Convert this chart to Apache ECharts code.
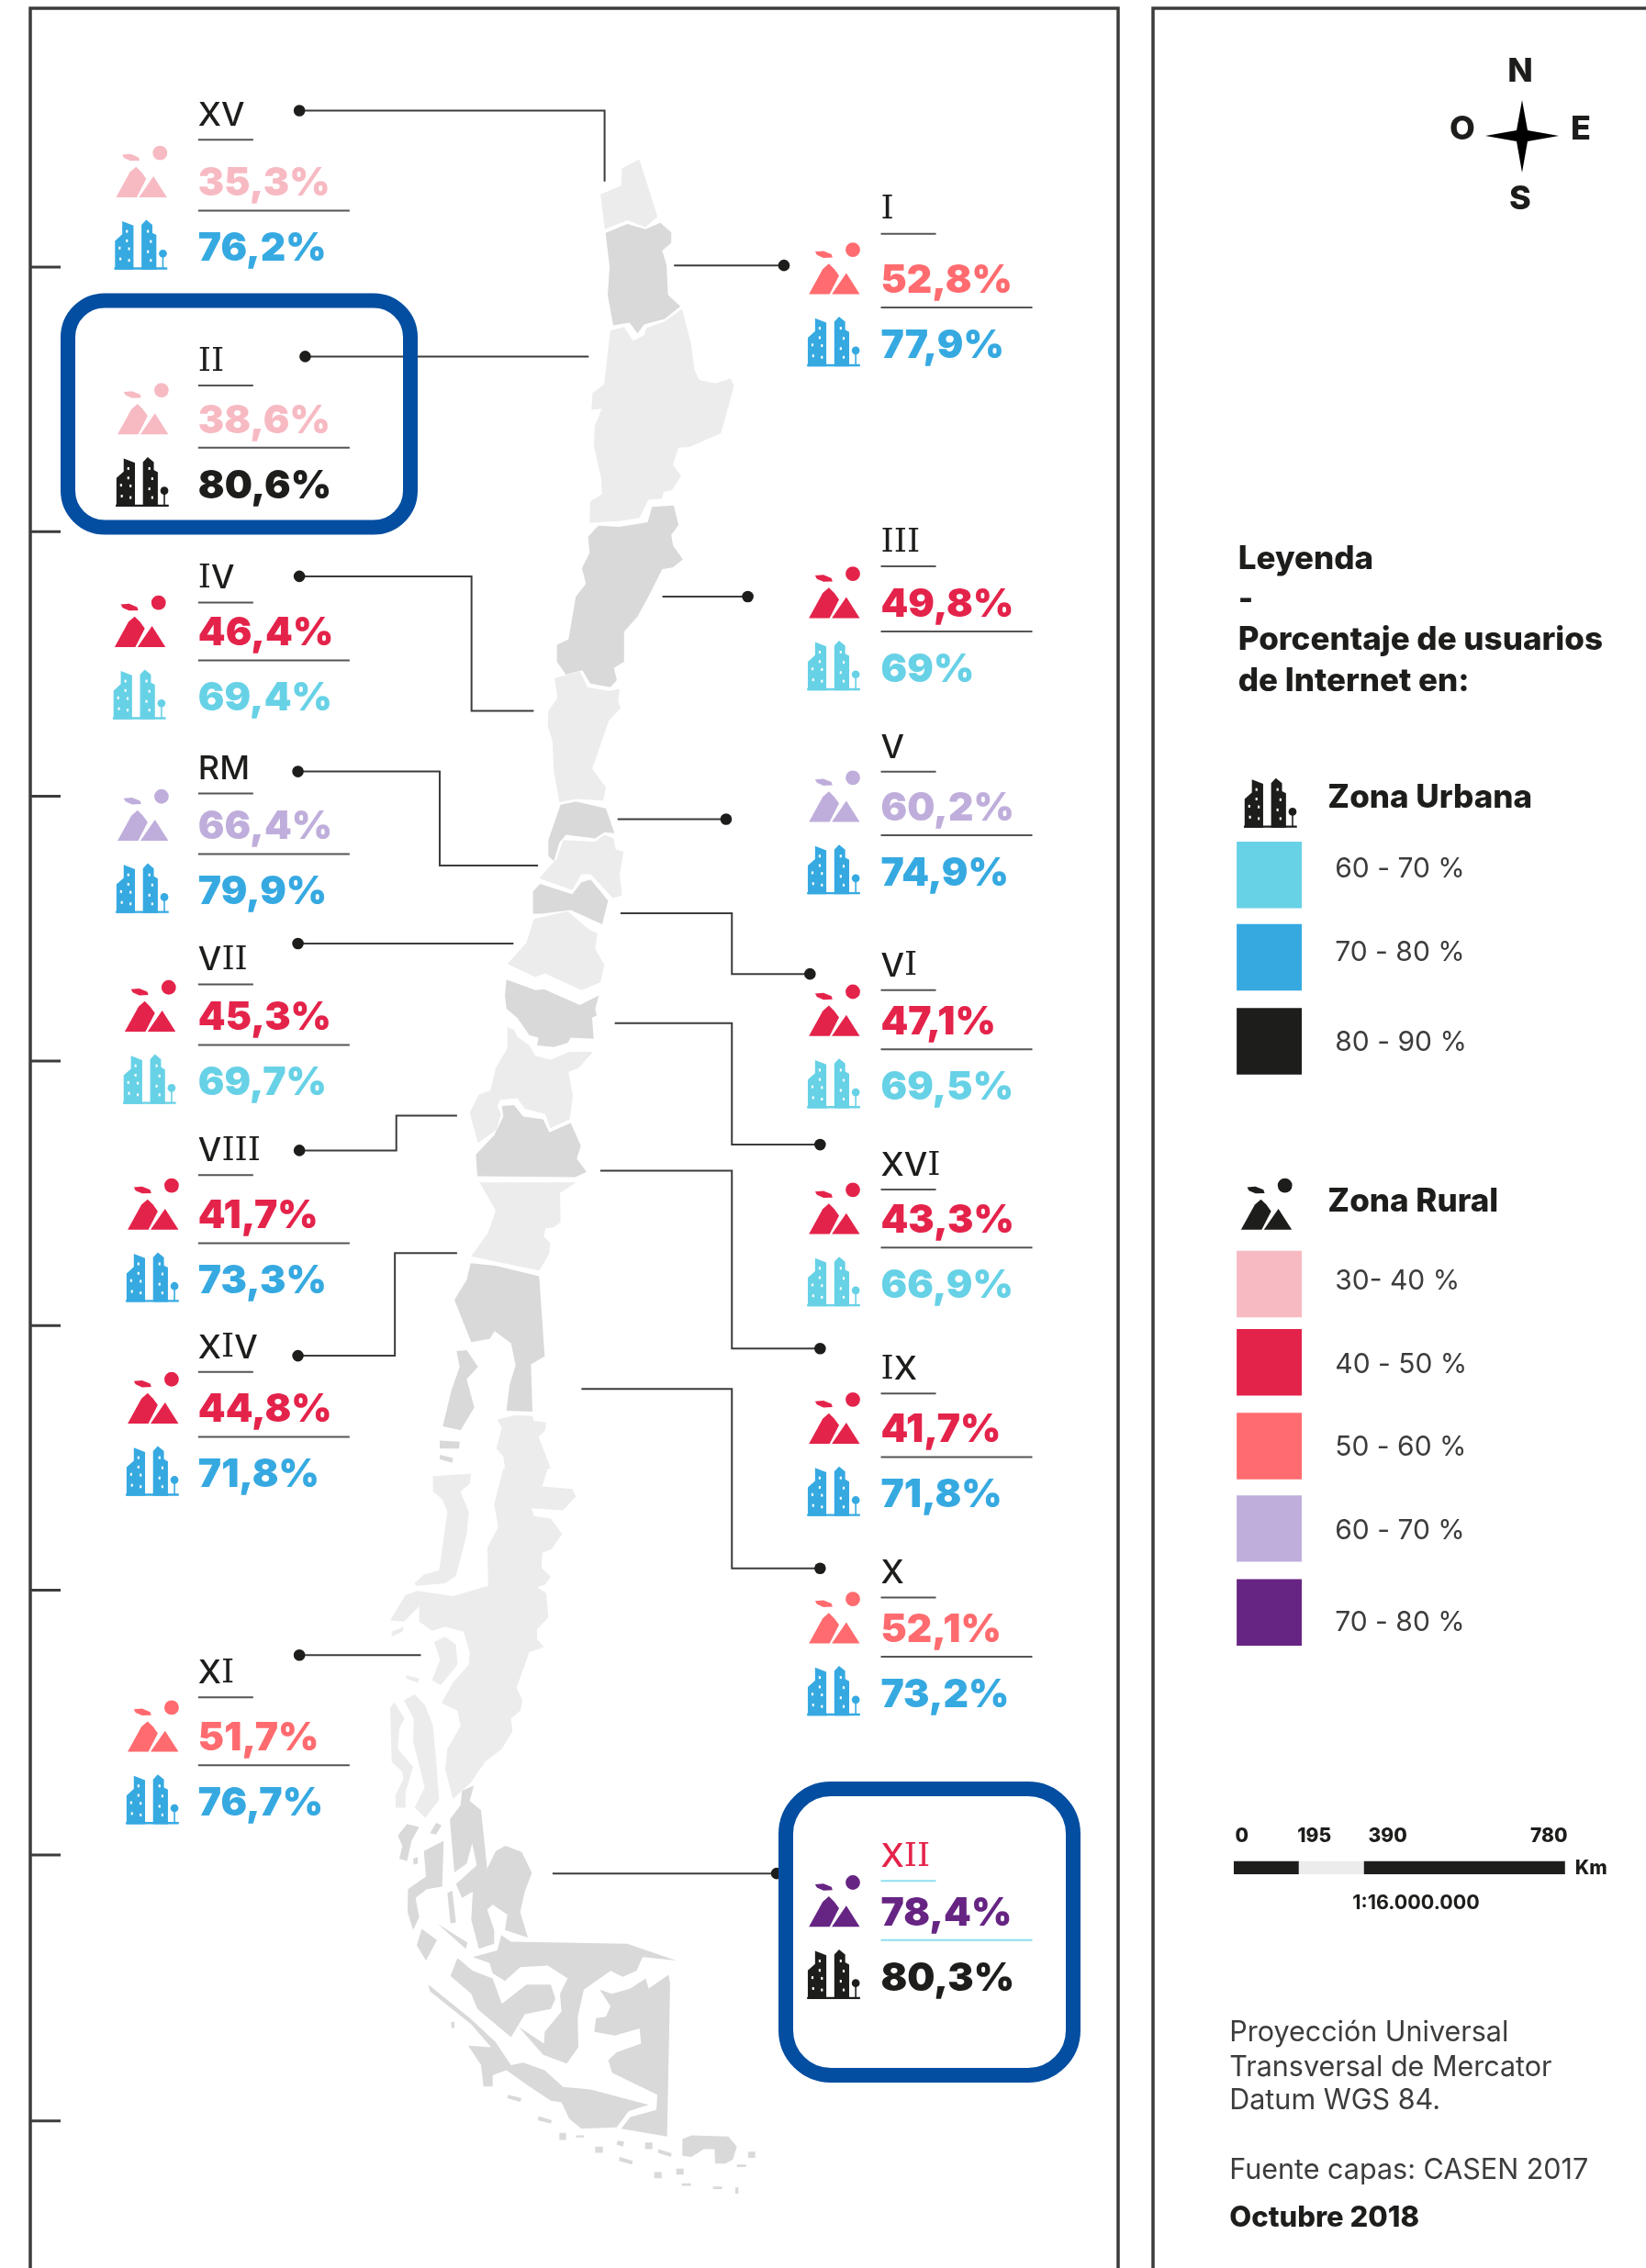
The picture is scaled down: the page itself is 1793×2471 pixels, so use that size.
<!DOCTYPE html>
<html>
<head>
<meta charset="utf-8">
<title>Usuarios de Internet</title>
<style>
  html, body { margin: 0; padding: 0; background: #fff; }
  #chart { width: 1793px; height: 2471px; }
</style>
<script src="https://cdn.jsdelivr.net/npm/echarts@6/dist/echarts.min.js"></script>
</head>
<body>
<div id="chart"></div>
<script>
// values
const regions = ['XV', 'II', 'IV', 'RM', 'VII', 'VIII', 'XIV', 'XI', 'I', 'III', 'V', 'VI', 'XVI', 'IX', 'X', 'XII'];
const ruralValues = [35.3, 38.6, 46.4, 66.4, 45.3, 41.7, 44.8, 51.7, 52.8, 49.8, 60.2, 47.1, 43.3, 41.7, 52.1, 78.4];
const urbanValues = [76.2, 80.6, 69.4, 79.9, 69.7, 73.3, 71.8, 76.7, 77.9, 69, 74.9, 69.5, 66.9, 71.8, 73.2, 80.3];

const urbanLegendLabels = ['60 - 70 %', '70 - 80 %', '80 - 90 %'];
const urbanLegendLimits = [60, 70, 80];
const ruralLegendLabels = ['30- 40 %', '40 - 50 %', '50 - 60 %', '60 - 70 %', '70 - 80 %'];
const ruralLegendLimits = [30, 40, 50, 60, 70];
const scaleTicks = ['0', '195', '390', '780'];

const urbanColors = ['#67d1e6', '#36a9e1', '#1d1d1b'];
const ruralColors = ['#f7bac3', '#e4234a', '#ff6b6f', '#bfaedb', '#662483'];
const INK = '#1d1d1b';
const LINE = '#3c3c3b';
const BOX = '#044ea1';
const FONT = 'Inter';

// layout below is in the 1138 wide preview, S brings it to page pixels
const S = 1793 / 1138;
// per card: text x, title y, rural row y, icon x
const cardLayout = [
  [137, 79, 126, 79], [137, 249, 290, 80], [137, 399, 437, 78], [137, 531, 571, 80],
  [137, 663, 703, 85], [137, 795, 840, 87], [137, 931, 974, 87], [137, 1156, 1201, 87],
  [609, 144, 193, 558], [609, 374, 417, 558], [609, 516, 558, 558], [609, 667, 706, 558],
  [609, 805, 843, 558], [609, 946, 988, 558], [609, 1087, 1126, 558], [609, 1283, 1322, 558]
];
// leader lines, first point carries the dot
const leaders = [
  [207, 76, 418, 76, 418, 125], [211, 246, 407, 246], [207, 398, 326, 398, 326, 491, 369, 491],
  [206, 533, 304, 533, 304, 598, 372, 598], [206, 652, 355, 652],
  [207, 795, 274, 795, 274, 771, 316, 771], [206, 937, 273, 937, 273, 866, 316, 866], [207, 1144, 291, 1144],
  [542, 183, 466, 183], [517, 412, 458, 412], [502, 566, 427, 566], [560, 673, 506, 673, 506, 631, 429, 631],
  [567, 791, 506, 791, 506, 707, 425, 707], [567, 932, 506, 932, 506, 809, 415, 809],
  [567, 1084, 506, 1084, 506, 960, 402, 960], [537, 1295, 382, 1295]
];

// map outlines, traced per crop: [x0, y0, kx, ky, rings]
const cropA = [560, 130, 0.3954, 0.3954];
const cropB = [400, 700, 1 / 3, 0.574];
const cropC = [400, 1600, 1 / 3, 0.5555];
const lightShapes = [
  [cropA, [345,110,395,268,362,297,312,278,250,303,238,207,295,183,297,135]],
  [cropA, [265,582,303,573,328,610,358,595,365,575,415,557,463,522,488,620,497,690,510,718,555,728,596,714,606,735,570,865,483,903,453,905,437,952,460,982,435,1022,412,1027,408,1045,370,1048,345,1098,290,1107,265,1108,208,1112,210,1053,242,1033,240,990,220,900,222,845,242,798,213,800,216,755,248,730]],
  [cropB, [612,68,695,55,720,85,790,92,825,88,820,112,828,125,790,148,735,240,780,275,772,300,685,297,628,303,610,245,605,185,590,160,592,130,622,105]],
  [cropB, [640,375,745,378,775,365,805,372,812,393,838,397,825,440,833,480,803,485,730,440,700,440,670,470,565,448,565,445,620,410]],
  [cropB, [545,525,655,510,725,545,752,552,745,582,775,612,762,645,700,660,580,628,550,635,458,610,520,570]],
  [cropB, [458,730,480,735,490,748,530,765,550,785,600,792,660,777,738,777,690,808,658,815,672,860,662,905,598,922,582,895,515,885,490,865,435,868,425,880,437,895,423,925,362,950,335,893,365,858,403,850,420,808,458,770]],
  [cropB, [367,1025,682,1025,630,1045,632,1100,610,1110,582,1112,578,1128,598,1140,595,1160,570,1185,562,1192,420,1175,340,1165,395,1120,420,1078]],
  [cropB, [425,1475,480,1467,540,1468,545,1478,585,1480,582,1495,560,1508,600,1568,450,1568,445,1545,422,1530,440,1490]],
  [cropC, [445,0,590,0,572,35,670,40,682,55,640,82,537,78,545,93,600,98,637,128,603,158,572,165,570,195,600,212,580,228,555,232,585,245,592,292,555,315,555,335,578,350,530,360,488,430,508,455,500,475,470,490,475,515,440,550,385,575,340,615,280,648,255,590,262,550,305,505,295,475,243,460,280,420,332,385,335,360,315,320,255,310,212,318,170,300,170,270,120,300,75,298,125,248,165,240,280,250,395,230,393,155,428,115,415,70]],
  [cropC, [215,15,340,10,335,30,305,45,332,85,325,130,290,210,255,225,160,230,155,225,185,208,235,200,262,85,245,60,215,45]],
  [cropC, [80,320,120,310,115,320,80,330]],
  [cropC, [218,340,255,330,290,345,295,385,240,425,212,415,238,375]],
  [cropC, [127,405,170,412,165,420,127,412]],
  [cropC, [75,470,88,458,122,490,105,510,100,550,150,585,125,635,125,665,93,665,93,640,118,610,115,595,80,575]],
  [cropC, [120,455,155,443,190,465,215,505,225,570,235,650,190,685,155,665,188,625,150,535,152,490]]
];
const darkShapes = [
  [cropA, [252,313,312,288,362,303,403,285,433,312,433,340,408,362,420,400,424,484,458,515,415,550,358,565,340,590,318,560,273,568,258,485,263,405]],
  [cropA, [380,1068,440,1064,453,1118,433,1145,438,1175,465,1213,437,1235,408,1240,370,1315,340,1370,303,1412,303,1495,275,1512,283,1545,265,1565,210,1555,188,1518,143,1530,118,1495,118,1448,150,1433,170,1315,198,1280,187,1237,208,1195,204,1150,232,1120,290,1123,368,1110]],
  [cropB, [632,308,682,302,780,315,808,362,775,360,745,372,650,365,628,380,610,415,592,405,592,375,610,345]],
  [cropB, [565,458,670,478,700,455,730,450,787,490,768,535,665,508,570,515,542,515,542,472]],
  [cropB, [455,640,550,660,578,658,695,688,757,670,745,695,750,708,735,712,740,752,665,750,655,760,610,768,555,765,560,750,530,745,490,712,455,695,450,670]],
  [cropB, [440,880,480,878,510,900,575,905,595,930,665,912,698,955,685,980,717,1005,680,1015,360,1013,355,972,415,935,445,900]],
  [cropB, [338,1178,420,1183,562,1203,580,1355,535,1370,540,1460,455,1458,465,1410,485,1372,470,1330,417,1307,400,1322,340,1328,285,1248,325,1210]],
  [cropB, [292,1345,325,1343,362,1375,325,1398,350,1452,305,1495,247,1488,275,1420,302,1375]],
  [cropB, [237,1515,302,1517,300,1530,237,1530]],
  [cropB, [237,1542,280,1548,278,1557,237,1550]],
  [cropC, [310,632,348,622,335,652,372,670,392,785,420,750,452,740,505,752,538,793,515,830,500,870,525,920,450,905,458,875,410,855,392,865,415,905,415,932,365,942,340,885,345,830,310,842,290,815,358,778,343,735,325,775,285,792,270,688,305,660]],
  [cropC, [100,720,130,697,170,703,145,730,130,770,105,765,115,740]],
  [cropC, [205,715,225,695,243,700,225,718]],
  [cropC, [150,765,165,762,165,775,152,777]],
  [cropC, [185,750,250,730,245,820,195,825,158,842,170,880,150,905,132,870,133,825,192,800]],
  [cropC, [262,832,278,828,290,890,272,892]],
  [cropC, [230,893,328,930,322,942]],
  [cropC, [178,903,228,925,192,965,162,935]],
  [cropC, [295,960,345,985,410,1000,440,1050,520,1012,600,1012,615,1040,600,1060,515,1070,470,1115,360,1060,340,1030,272,995]],
  [cropC, [345,958,425,945,438,915,470,928,850,932,1010,965,900,958,880,985,835,997,795,985,708,1022,688,1075,690,1135,652,1167,575,1150,495,1095,578,1128,580,1105,635,1065,630,1030,655,1000,590,975,500,978,450,1005,410,990,400,970]],
  [cropC, [760,1022,800,1030,860,1020,910,1000,920,1020,985,993,990,1010,980,1310,830,1295,860,1272,945,1258,948,1228,800,1185,788,1160,815,1145,895,1128,890,1098,810,1112,742,1105,748,1078,780,1075,795,1055]],
  [cropC, [200,1012,340,1080,420,1125,470,1170,510,1165,580,1180,640,1213,730,1218,920,1248,855,1260,815,1292,700,1295,660,1275,635,1243,600,1240,520,1208,455,1180,410,1190,410,1212,380,1212,372,1170,330,1132,405,1135,340,1090,205,1025]],
  [cropC, [275,1085,285,1085,285,1097,275,1097]],
  [cropC, [460,1228,505,1235,500,1242,458,1235]],
  [cropC, [560,1270,603,1278,600,1285,558,1278]],
  [cropC, [628,1303,650,1303,650,1317,628,1317]],
  [cropC, [682,1308,708,1308,708,1312,682,1312]],
  [cropC, [745,1330,770,1330,770,1342,745,1342]],
  [cropC, [818,1318,840,1320,836,1330,815,1326]],
  [cropC, [908,1322,932,1322,932,1335,908,1335]],
  [cropC, [952,1335,995,1343,992,1350,950,1342]],
  [cropC, [825,1350,868,1358,865,1365,823,1358]],
  [cropC, [938,1380,962,1380,962,1392,938,1392]],
  [cropC, [1010,1373,1034,1373,1034,1385,1010,1385]],
  [cropC, [1028,1402,1058,1402,1058,1407,1028,1407]],
  [cropC, [1130,1408,1160,1408,1160,1413,1130,1413]],
  [cropC, [1203,1410,1213,1410,1213,1422,1203,1422]],
  [cropC, [1208,1365,1238,1365,1238,1370,1208,1370]],
  [cropC, [1245,1340,1268,1340,1268,1352,1245,1352]],
  [cropC, [1030,1315,1060,1308,1180,1310,1208,1330,1195,1355,1170,1363,1137,1363,1135,1335,1100,1335,1060,1350,1030,1348]]
];

function toRings(shapes) {
  return shapes.map(([c, flat]) => {
    const ring = [];
    for (let i = 0; i < flat.length; i += 2) ring.push([c[0] + flat[i] * c[2], c[1] + flat[i + 1] * c[3]]);
    ring.push(ring[0]);
    return [ring];
  });
}
const feature = (name, shapes) => ({
  type: 'Feature', properties: { name }, geometry: { type: 'MultiPolygon', coordinates: toRings(shapes) }
});
echarts.registerMap('chile', { type: 'FeatureCollection', features: [feature('claro', lightShapes), feature('oscuro', darkShapes)] });

function pickColor(value, limits, colors) {
  let idx = 0;
  limits.forEach((l, i) => { if (value >= l) idx = i; });
  return colors[idx];
}
const pts = (flat, x, y, k) => {
  const out = [];
  for (let i = 0; i < flat.length; i += 2) out.push([x + flat[i] * k, y + flat[i + 1] * k]);
  return out;
};
// icons, drawn in a box about 145 wide, k scales them
function ruralIcon(x, y, fill, k) {
  return [
    { type: 'circle', shape: { cx: x + 121 * k, cy: y + 19 * k, r: 20 * k }, style: { fill } },
    { type: 'polygon', shape: { points: pts([17,24,40,22,62,31,65,40,40,41,22,33], x, y, k) }, style: { fill } },
    { type: 'polygon', shape: { points: pts([0,141,38,72,55,57,70,72,83,90,57,141], x, y, k) }, style: { fill } },
    { type: 'polygon', shape: { points: pts([63,141,103,83,140,141], x, y, k) }, style: { fill } }
  ];
}
function urbanIcon(x, y, fill, k) {
  const windows = [32,32,32,58,12,78,38,80,14,108,38,112,90,32,98,60,90,88,98,112];
  const kids = [
    { type: 'polygon', shape: { points: pts([2,141,2,62,22,44,22,8,53,20,53,141], x, y, k) }, style: { fill } },
    { type: 'polygon', shape: { points: pts([75,141,75,18,88,4,105,18,105,40,116,46,116,141], x, y, k) }, style: { fill } },
    { type: 'circle', shape: { cx: x + 134 * k, cy: y + 97 * k, r: 11 * k }, style: { fill } },
    { type: 'rect', shape: { x: x + 132 * k, y: y + 100 * k, width: 4 * k, height: 38 * k }, style: { fill } },
    { type: 'rect', shape: { x, y: y + 135 * k, width: 146 * k, height: 6 * k }, style: { fill } }
  ];
  for (let i = 0; i < windows.length; i += 2) {
    kids.push({ type: 'rect', shape: { x: x + windows[i] * k, y: y + windows[i + 1] * k, width: 5.5 * k, height: 7.5 * k }, style: { fill: '#fff' } });
  }
  return kids;
}

const fmt = v => String(v).replace('.', ',') + '%';
// the roman I has slabs in the original, X V R M do not
const titleRich = code => code.replace(/I+|[^I]+/g, run => (run[0] === 'I' ? '{m|' : '{s|') + run + '}');

function renderCard(params, api) {
  const i = api.value(0), rural = api.value(1), urban = api.value(2);
  const [tx, ty, ry, ix] = cardLayout[i].map(v => v * S);
  const code = regions[i];
  const highlight = code === 'XII';
  const titleFill = highlight ? '#e4234a' : INK;
  const ruleFill = highlight ? '#8fdfee' : '#555555';
  const kids = [];
  const path = leaders[i];
  const line = [];
  for (let p = 0; p < path.length; p += 2) line.push([path[p] * S, path[p + 1] * S + 0.8]);
  kids.push({ type: 'polyline', shape: { points: line }, style: { stroke: LINE, lineWidth: 2, fill: null } });
  kids.push({ type: 'circle', shape: { cx: line[0][0], cy: line[0][1], r: 6.3 }, style: { fill: INK } });
  kids.push({
    type: 'text',
    style: {
      x: tx, y: ty + 2, verticalAlign: 'middle', text: titleRich(code),
      rich: {
        s: { fontFamily: FONT, fontSize: 36, fontWeight: 500, fill: titleFill },
        m: { fontFamily: 'DejaVu Serif', fontSize: 36, fontWeight: 400, fill: titleFill }
      }
    }
  });
  kids.push({ type: 'rect', shape: { x: tx, y: ty + 17 * S, width: 60, height: 2 }, style: { fill: ruleFill } });
  const ruralFill = pickColor(rural, ruralLegendLimits, ruralColors);
  const urbanFill = pickColor(urban, urbanLegendLimits, urbanColors);
  kids.push({ type: 'text', style: { x: tx, y: ry + 2, verticalAlign: 'middle', text: fmt(rural), fontFamily: FONT, fontWeight: 900, fontSize: 42.5, fill: ruralFill } });
  kids.push({ type: 'rect', shape: { x: tx, y: ry + 19 * S, width: 165, height: 2 }, style: { fill: ruleFill } });
  kids.push({ type: 'text', style: { x: tx, y: ry + 45 * S + 2, verticalAlign: 'middle', text: fmt(urban), fontFamily: FONT, fontWeight: 900, fontSize: 42.5, fill: urbanFill } });
  const k = 0.3954;
  return {
    type: 'group',
    children: kids
      .concat(ruralIcon(ix + 2, ry - 25 * S, ruralFill, k))
      .concat(urbanIcon(ix, ry + 25 * S, urbanFill, k))
  };
}

// frames, compass, legend and notes
const graphics = [];
const addText = (text, x, y, fontSize, fontWeight, fill, textAlign) => graphics.push({
  type: 'text', z: 5, style: { text, x: x * S, y: y * S + 1.5, fontFamily: FONT, fontSize, fontWeight, fill: fill || INK, verticalAlign: 'middle', textAlign: textAlign || 'left' }
});
const addRect = (x, y, w, h, fill) => graphics.push({ type: 'rect', z: 5, shape: { x: x * S, y: y * S, width: w * S, height: h * S }, style: { fill } });

graphics.push({ type: 'rect', z: 1, shape: { x: 33, y: 9, width: 1185, height: 2600 }, style: { fill: null, stroke: LINE, lineWidth: 3.5 } });
graphics.push({ type: 'rect', z: 1, shape: { x: 1256, y: 9, width: 700, height: 2600 }, style: { fill: null, stroke: LINE, lineWidth: 3.5 } });
[184, 367, 550, 733, 916, 1099, 1282, 1466].forEach(y => graphics.push({
  type: 'rect', z: 1, shape: { x: 33, y: y * S - 0.5, width: 33, height: 3 }, style: { fill: LINE }
}));
graphics.push({ type: 'rect', z: 10, shape: { x: 74, y: 327.5, width: 373, height: 247, r: 40 }, style: { fill: null, stroke: BOX, lineWidth: 16 } });
graphics.push({ type: 'rect', z: 10, shape: { x: 856, y: 1949, width: 313, height: 312, r: 49 }, style: { fill: null, stroke: BOX, lineWidth: 16 } });

// compass
graphics.push({
  type: 'polygon', z: 5,
  shape: { points: [[1658, 109], [1664, 142], [1698, 148], [1664, 154], [1658, 188], [1652, 154], [1618, 148], [1652, 142]] },
  style: { fill: '#000' }
});
[['N', 1656, 78], ['S', 1656, 217], ['O', 1593, 141], ['E', 1722, 141]].forEach(([t, x, y]) => graphics.push({
  type: 'text', z: 5, style: { text: t, x, y, fontFamily: FONT, fontSize: 36, fontWeight: 800, fill: INK, textAlign: 'center', verticalAlign: 'middle' }
}));

// legend text
addText('Leyenda', 856, 386, 35, 800);
addText('-', 856, 414, 35, 800);
addText('Porcentaje de usuarios', 856, 442, 35, 800);
addText('de Internet en:', 856, 470, 35, 800);

graphics.push({ type: 'group', z: 5, children: urbanIcon(860 * S, 537 * S, INK, 0.3954) });
addText('Zona Urbana', 918, 551, 35, 800);
const urbanBoxY = [582, 639, 697], urbanLabelY = [600, 658, 720];
urbanLegendLabels.forEach((t, i) => {
  addRect(855, urbanBoxY[i], 45, 46, urbanColors[i]);
  addText(t, 923, urbanLabelY[i], 30, 400, '#3c3c3b');
});
graphics.push({ type: 'group', z: 5, children: ruralIcon(858 * S, 815 * S, INK, 0.3954) });
addText('Zona Rural', 918, 830, 35, 800);
const ruralBoxY = [865, 919, 977, 1034, 1092], ruralLabelY = [885, 943, 1000, 1058, 1121];
ruralLegendLabels.forEach((t, i) => {
  addRect(855, ruralBoxY[i], 45, 46, ruralColors[i]);
  addText(t, 923, ruralLabelY[i], 30, 400, '#3c3c3b');
});

// scale bar
const scaleTickX = [854, 897, 946, 1058];
scaleTicks.forEach((t, i) => addText(t, scaleTickX[i], 1269, 21, 800));
addRect(853, 1287, 45, 9, INK);
addRect(898, 1287, 45, 9, '#ececec');
addRect(943, 1287, 139, 9, INK);
addText('Km', 1089, 1291, 21, 800);
addText('1:16.000.000', 979, 1315, 21.5, 700, INK, 'center');

// notes
addText('Proyección Universal', 850, 1405, 30.5, 400, '#3c3c3b');
addText('Transversal de Mercator', 850, 1429, 30.5, 400, '#3c3c3b');
addText('Datum WGS 84.', 850, 1452, 30.5, 400, '#3c3c3b');
addText('Fuente capas: CASEN 2017', 850, 1500, 30.5, 400, '#3c3c3b');
addText('Octubre 2018', 850, 1533, 31, 800);

const identity = { project: p => [p[0], p[1]], unproject: p => [p[0], p[1]] };
const option = {
  animation: false,
  backgroundColor: '#fff',
  graphic: { elements: graphics },
  series: [
    {
      type: 'map',
      map: 'chile',
      projection: identity,
      boundingCoords: [[0, 0], [1793, 2471]],
      left: 0, top: 0, width: 1793, height: 2471,
      silent: true,
      selectedMode: false,
      label: { show: false },
      itemStyle: { borderWidth: 0 },
      data: [
        { name: 'claro', value: 1, itemStyle: { areaColor: '#ececec' } },
        { name: 'oscuro', value: 2, itemStyle: { areaColor: '#d9d9d9' } }
      ]
    },
    {
      type: 'custom',
      coordinateSystem: 'none',
      silent: true,
      z: 3,
      renderItem: renderCard,
      data: regions.map((r, i) => [i, ruralValues[i], urbanValues[i]])
    }
  ]
};
const chart = echarts.init(document.getElementById('chart'), null, { renderer: 'canvas' });
chart.setOption(option);
</script>
</body>
</html>
